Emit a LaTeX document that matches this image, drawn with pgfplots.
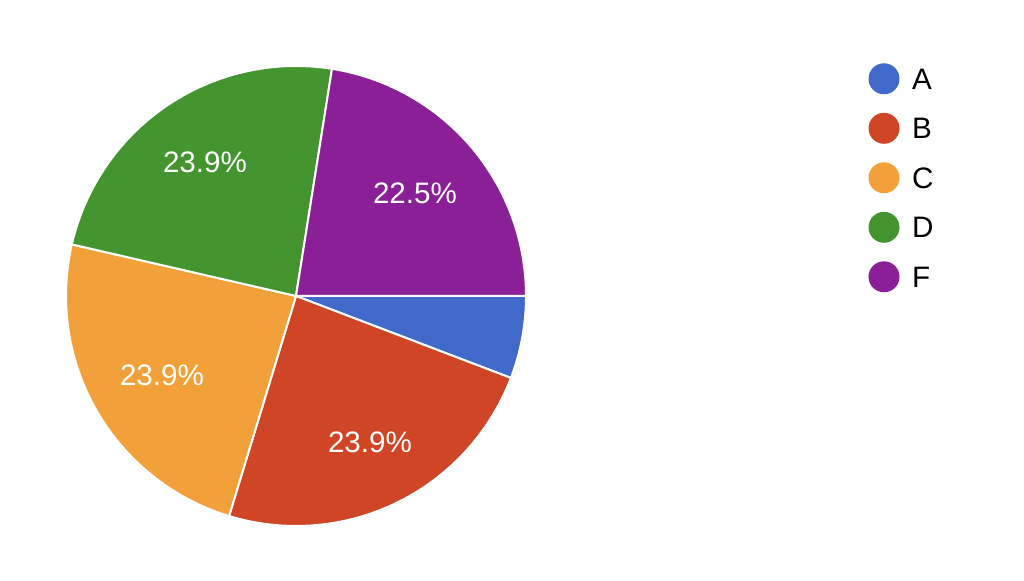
\documentclass[border=0pt]{standalone}
\usepackage{fontspec}
\setmainfont{Liberation Sans}
\usepackage{pgfplots}
\pgfplotsset{compat=1.18}
\definecolor{cA}{HTML}{4169C9}
\definecolor{cB}{HTML}{CF4526}
\definecolor{cC}{HTML}{F2A03A}
\definecolor{cD}{HTML}{44952F}
\definecolor{cF}{HTML}{8B1F97}
% shares (%): A 5.8, B 23.9, C 23.9, D 23.9, F 22.5 -> angles (deg, clockwise from 3 o'clock)
\begin{document}
\begin{tikzpicture}
\begin{axis}[
  scale only axis, width=512pt, height=290.5pt,
  xmin=0, xmax=1024, ymin=0, ymax=581,
  hide axis, clip=false,
  legend style={draw=none, fill=none, at={(axis cs:868.5,517.7)}, anchor=north west,
    inner sep=0pt, outer sep=0pt,
    font=\fontsize{14.8}{17}\selectfont, row sep=7.75pt,
    nodes={inner sep=0pt, text height=13pt, text depth=4pt, anchor=base west},
    /tikz/every odd column/.append style={column sep=6.25pt}},
  legend cell align=left,
  legend image code/.code={\fill[#1, draw=none] (7.75pt,5.25pt) circle (7.75pt);},
]
\addplot[fill=cA, draw=white, line width=1pt, domain=-20.88:0, samples=30]
  ({296+230*cos(x)},{285+230*sin(x)}) -- (axis cs:296,285) -- cycle;
\addlegendentry{A}
\addplot[fill=cB, draw=white, line width=1pt, domain=-106.92:-20.88, samples=80]
  ({296+230*cos(x)},{285+230*sin(x)}) -- (axis cs:296,285) -- cycle;
\addlegendentry{B}
\addplot[fill=cC, draw=white, line width=1pt, domain=-192.96:-106.92, samples=80]
  ({296+230*cos(x)},{285+230*sin(x)}) -- (axis cs:296,285) -- cycle;
\addlegendentry{C}
\addplot[fill=cD, draw=white, line width=1pt, domain=-279.0:-192.96, samples=80]
  ({296+230*cos(x)},{285+230*sin(x)}) -- (axis cs:296,285) -- cycle;
\addlegendentry{D}
\addplot[fill=cF, draw=white, line width=1pt, domain=-360:-279.0, samples=80]
  ({296+230*cos(x)},{285+230*sin(x)}) -- (axis cs:296,285) -- cycle;
\addlegendentry{F}
\addplot[draw=none, forget plot] coordinates {(0,0) (1024,581)};
\begin{scope}[every node/.style={text=white, font=\fontsize{14.8}{17}\selectfont}]
\node at (axis cs:205,419) {23.9\%};
\node at (axis cs:415,388) {22.5\%};
\node at (axis cs:162,206) {23.9\%};
\node at (axis cs:370,139) {23.9\%};
\end{scope}
\end{axis}
\end{tikzpicture}
\end{document}
